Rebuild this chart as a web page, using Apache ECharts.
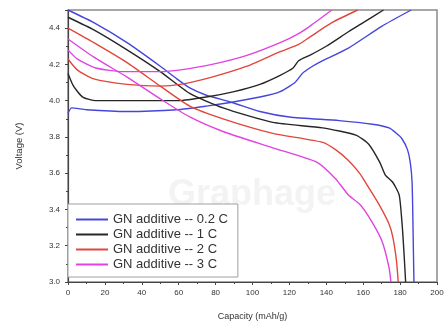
<!DOCTYPE html>
<html>
<head>
<meta charset="utf-8">
<script src="https://cdn.jsdelivr.net/npm/echarts@6/dist/echarts.min.js"></script>
<style>
  html, body { margin: 0; padding: 0; background: #fff; }
  #main { width: 448px; height: 332px; }
</style>
</head>
<body>
<div id="main"></div>
<script>
// capacity (mAh/g), voltage (V)
const names = ['GN additive -- 0.2 C', 'GN additive -- 1 C', 'GN additive -- 2 C', 'GN additive -- 3 C'];
const colors = ['#4646dc', '#262626', '#e2463c', '#e044e0'];

const xTicks = [0, 20, 40, 60, 80, 100, 120, 140, 160, 180, 200];
const yTicks = [3.0, 3.2, 3.4, 3.6, 3.8, 4.0, 4.2, 4.4];

// discharge curves
const dis02 = [[0,4.50],[14,4.43],[32,4.32],[50,4.19],[59,4.12],[66,4.07],[75,4.03],[89,3.99],[104,3.94],[120,3.91],[147,3.89],[165,3.87],[174,3.85],[178,3.82],[181,3.79],[184,3.73],[185.5,3.66],[186.5,3.55],[187,3.3],[187.5,3.0]];
const dis1 = [[0,4.46],[14,4.39],[32,4.28],[50,4.16],[66,4.04],[84,3.96],[111,3.88],[138,3.85],[156,3.81],[163,3.76],[169,3.66],[172,3.59],[176,3.55],[179.5,3.48],[181,3.33],[182,3.18],[183,3.0]];
const dis2 = [[0,4.40],[14,4.32],[32,4.21],[50,4.08],[66,3.97],[84,3.90],[111,3.82],[138,3.77],[145,3.73],[152,3.67],[158,3.60],[163,3.52],[169,3.42],[174,3.32],[176,3.25],[178,3.12],[179,3.0]];
const dis3 = [[0,4.34],[14,4.24],[32,4.13],[50,4.01],[66,3.91],[84,3.83],[111,3.74],[135,3.66],[145,3.57],[152,3.48],[158,3.43],[163,3.36],[170,3.23],[174,3.08],[175,3.0]];

// charge curves
const chg02 = [[0,3.93],[2,3.96],[10,3.95],[32,3.94],[59,3.95],[75,3.97],[88,3.99],[104,4.02],[115,4.05],[123,4.10],[127,4.15],[131,4.18],[136,4.21],[152,4.29],[170,4.41],[186,4.50]];
const chg1 = [[0,4.15],[3,4.08],[8,4.02],[15,4.00],[60,4.00],[75,4.02],[90,4.05],[104,4.09],[115,4.14],[122,4.18],[125,4.22],[131,4.25],[140,4.30],[152,4.38],[160,4.43],[171,4.50]];
const chg2 = [[0,4.23],[5,4.17],[14,4.12],[32,4.09],[50,4.08],[61,4.09],[78,4.13],[97,4.19],[115,4.27],[125,4.31],[131,4.35],[143,4.43],[157,4.50]];
const chg3 = [[0,4.28],[5,4.23],[15,4.18],[30,4.16],[50,4.16],[61,4.17],[78,4.20],[97,4.25],[115,4.32],[125,4.37],[131,4.41],[143,4.50]];

const curves = [
  [dis02, chg02],
  [dis1, chg1],
  [dis2, chg2],
  [dis3, chg3]
];

let chart = echarts.init(document.getElementById('main'), null, { renderer: 'canvas' });

let series = [];
curves.forEach(function (pair, i) {
  pair.forEach(function (d) {
    series.push({
      name: names[i],
      type: 'line',
      data: d,
      symbol: 'none',
      smooth: 0.2,
      lineStyle: { color: colors[i], width: 1.4 },
      itemStyle: { color: colors[i] }
    });
  });
});

let option = {
  animation: false,
  backgroundColor: '#fff',
  textStyle: { fontFamily: 'Liberation Sans, Arial, sans-serif' },
  grid: {
    left: 68,
    right: 11,
    top: 10,
    bottom: 50,
    show: true,
    borderColor: '#8a8a8a',
    borderWidth: 1.5
  },
  graphic: [{
    type: 'text',
    left: 168,
    top: 177,
    silent: true,
    z: 0,
    style: {
      text: 'Graphage',
      fontSize: 36,
      fontWeight: 'bold',
      fill: 'rgba(200,200,200,0.22)',
      fontFamily: 'Liberation Sans, Arial, sans-serif'
    }
  }],
  legend: {
    data: names,
    orient: 'vertical',
    left: 68,
    top: 204,
    itemGap: 2,
    itemWidth: 32,
    itemHeight: 2,
    icon: 'rect',
    padding: [9, 10, 6, 8],
    backgroundColor: '#fff',
    borderColor: '#a0a0a0',
    borderWidth: 1,
    borderRadius: 0,
    textStyle: { fontSize: 13, color: '#333', lineHeight: 13 }
  },
  xAxis: {
    type: 'value',
    min: 0,
    max: 200,
    interval: 20,
    name: 'Capacity (mAh/g)',
    nameLocation: 'middle',
    nameGap: 30,
    nameTextStyle: { fontSize: 9, color: '#333' },
    axisLine: { show: true, lineStyle: { color: '#444', width: 1.2 } },
    axisTick: { show: true, length: 3, lineStyle: { color: '#444' } },
    minorTick: { show: true, splitNumber: 2, length: 2, lineStyle: { color: '#444' } },
    splitLine: { show: false },
    axisLabel: {
      fontSize: 8,
      color: '#333',
      margin: 7,
      formatter: function (v) { return xTicks.indexOf(v) >= 0 ? String(v) : ''; }
    }
  },
  yAxis: {
    type: 'value',
    min: 3.0,
    max: 4.5,
    interval: 0.2,
    name: 'Voltage (V)',
    nameLocation: 'middle',
    nameGap: 44,
    nameTextStyle: { fontSize: 9.5, color: '#333' },
    axisLine: { show: true, lineStyle: { color: '#444', width: 1.2 } },
    axisTick: { show: true, length: 3, lineStyle: { color: '#444' } },
    minorTick: { show: true, splitNumber: 2, length: 2, lineStyle: { color: '#444' } },
    splitLine: { show: false },
    axisLabel: {
      fontSize: 8,
      color: '#333',
      margin: 8,
      formatter: function (v) {
        let t = yTicks.find(function (y) { return Math.abs(y - v) < 1e-6; });
        return t === undefined ? '' : t.toFixed(1);
      }
    }
  },
  series: series
};

chart.setOption(option);
</script>
</body>
</html>
